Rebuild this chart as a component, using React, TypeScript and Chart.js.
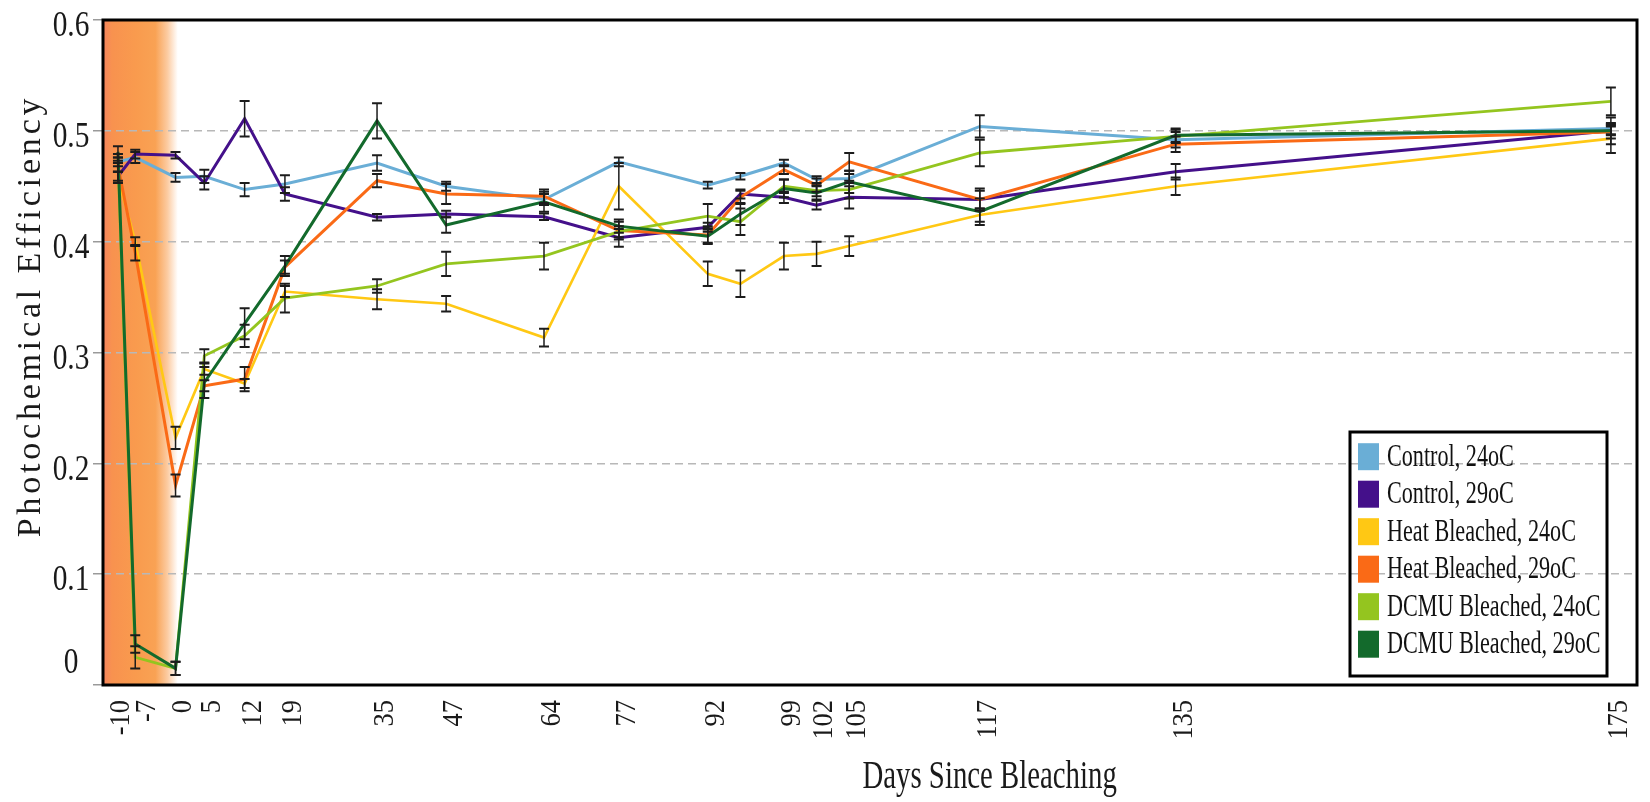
import React, { useEffect, useRef } from 'react';
import { Chart, registerables, LinearScale } from 'chart.js';

Chart.register(...registerables);

// Measurement days (one per sample) and the day labels shown on the axis
const days = [-10, -7, 0, 5, 12, 19, 35, 47, 64, 77, 92, 95, 99, 102, 105, 117, 135, 175];
const tickDays = [-10, -7, 0, 5, 12, 19, 35, 47, 64, 77, 92, 99, 102, 105, 117, 135, 175];

// Photochemical efficiency (Fv/Fm) means and their error half-widths
const control24 = [0.472, 0.476, 0.458, 0.459, 0.447, 0.452, 0.471, 0.45, 0.438, 0.472, 0.451, 0.459, 0.471, 0.456, 0.457, 0.504, 0.492, 0.502];
const control24Err = [0.004, 0.005, 0.004, 0.006, 0.006, 0.008, 0.007, 0.004, 0.005, 0.004, 0.003, 0.003, 0.003, 0.003, 0.004, 0.01, 0.007, 0.005];

const control29 = [0.459, 0.479, 0.478, 0.453, 0.511, 0.443, 0.422, 0.425, 0.4225, 0.4035, 0.413, 0.443, 0.44, 0.433, 0.44, 0.438, 0.463, 0.5];
const control29Err = [0.004, 0.004, 0.003, 0.006, 0.016, 0.006, 0.003, 0.003, 0.003, 0.008, 0.004, 0.004, 0.005, 0.004, 0.01, 0.008, 0.007, 0.004];

const heat24 = [0.458, 0.4, 0.223, 0.285, 0.272, 0.355, 0.348, 0.344, 0.3135, 0.45, 0.371, 0.362, 0.387, 0.389, 0.396, 0.424, 0.45, 0.493];
const heat24Err = [0.005, 0.004, 0.01, 0.005, 0.004, 0.005, 0.009, 0.007, 0.008, 0.021, 0.011, 0.012, 0.012, 0.011, 0.009, 0.006, 0.008, 0.013];

const heat29 = [0.468, 0.39, 0.18, 0.27, 0.276, 0.377, 0.455, 0.443, 0.441, 0.41, 0.406, 0.44, 0.465, 0.451, 0.472, 0.438, 0.488, 0.499];
const heat29Err = [0.005, 0.007, 0.01, 0.005, 0.011, 0.006, 0.006, 0.009, 0.006, 0.008, 0.008, 0.006, 0.004, 0.006, 0.008, 0.01, 0.007, 0.006];

const dcmu24 = [0.475, 0.025, 0.015, 0.297, 0.315, 0.349, 0.36, 0.38, 0.387, 0.409, 0.423, 0.418, 0.45, 0.446, 0.447, 0.48, 0.495, 0.5265];
const dcmu24Err = [0.004, 0.01, 0.006, 0.006, 0.01, 0.013, 0.006, 0.011, 0.012, 0.005, 0.011, 0.012, 0.006, 0.005, 0.008, 0.012, 0.006, 0.0125];

const dcmu29 = [0.481, 0.037, 0.015, 0.273, 0.326, 0.378, 0.509, 0.415, 0.436, 0.414, 0.405, 0.425, 0.448, 0.444, 0.454, 0.427, 0.496, 0.5];
const dcmu29Err = [0.005, 0.008, 0.006, 0.014, 0.014, 0.009, 0.016, 0.007, 0.009, 0.006, 0.006, 0.01, 0.008, 0.006, 0.01, 0.012, 0.006, 0.012];

const SERIF = '"Liberation Serif", "DejaVu Serif", serif';

// The time axis is drawn at a wider spacing per day after the early recovery phase
const BREAK_DAY = 91.5;
const LATE_STRETCH = 1.89;
const stretch = (d: number) => (d <= BREAK_DAY ? d : BREAK_DAY + (d - BREAK_DAY) * LATE_STRETCH);
const unstretch = (s: number) => (s <= BREAK_DAY ? s : BREAK_DAY + (s - BREAK_DAY) / LATE_STRETCH);

class SplitDayScale extends LinearScale {
  static id = 'splitDay';
  static defaults = LinearScale.defaults;

  getPixelForValue(value: number) {
    if (value === null || value === undefined || isNaN(value)) return NaN;
    const a = stretch(this.min);
    const b = stretch(this.max);
    return this.getPixelForDecimal((stretch(value) - a) / (b - a));
  }

  getValueForPixel(pixel: number) {
    const a = stretch(this.min);
    const b = stretch(this.max);
    return unstretch(a + this.getDecimalForPixel(pixel) * (b - a));
  }
}
Chart.register(SplitDayScale);

const toPoints = (values: number[]) => values.map((v, i) => ({ x: days[i], y: v }));

// Shaded bleaching period before day 0
const bleachBandPlugin = {
  id: 'bleachBand',
  beforeDraw(chart: any) {
    const { ctx, chartArea: a, scales } = chart;
    const x0 = a.left;
    const x1 = scales.x.getPixelForValue(0.4);
    const g = ctx.createLinearGradient(x0, 0, x1, 0);
    g.addColorStop(0, '#f6845e');
    g.addColorStop(0.12, '#f8924f');
    g.addColorStop(0.45, '#f99b4e');
    g.addColorStop(0.7, '#f9a254');
    g.addColorStop(0.86, '#fccba1');
    g.addColorStop(1, '#ffffff');
    ctx.save();
    ctx.fillStyle = g;
    ctx.fillRect(x0, a.top, x1 - x0, a.bottom - a.top);
    ctx.restore();
  },
};

const errorBarPlugin = {
  id: 'errorBars',
  afterDatasetsDraw(chart: any) {
    const { ctx, scales } = chart;
    const xs = scales.x;
    const ys = scales.y;
    ctx.save();
    ctx.strokeStyle = '#1c1c1c';
    chart.data.datasets.forEach((ds: any) => {
      ds.data.forEach((pt: any, i: number) => {
        const e = ds.errors[i];
        if (!e) return;
        const px = xs.getPixelForValue(pt.x);
        const top = ys.getPixelForValue(pt.y + e);
        const bot = ys.getPixelForValue(pt.y - e);
        ctx.lineWidth = 1.5;
        ctx.beginPath();
        ctx.moveTo(px, top);
        ctx.lineTo(px, bot);
        ctx.stroke();
        ctx.lineWidth = 2;
        ctx.beginPath();
        ctx.moveTo(px - 5, top);
        ctx.lineTo(px + 5, top);
        ctx.moveTo(px - 5, bot);
        ctx.lineTo(px + 5, bot);
        ctx.stroke();
      });
    });
    ctx.restore();
  },
};

// Frame, axis labels and titles, and the boxed legend
const decorPlugin = {
  id: 'decor',
  afterDraw(chart: any) {
    const { ctx, chartArea: a, scales } = chart;
    const xs = scales.x;
    const ys = scales.y;
    ctx.save();

    ctx.lineWidth = 3;
    ctx.strokeStyle = '#000';
    ctx.strokeRect(a.left, a.top, a.right - a.left, a.bottom - a.top);

    // y tick labels, narrow serif figures centred in the axis gutter
    ctx.fillStyle = '#1a1a1a';
    ctx.textAlign = 'center';
    ctx.textBaseline = 'middle';
    ys.ticks.forEach((t: any) => {
      const v = Number(t.value);
      const isZero = Math.abs(v) < 1e-9;
      const py = ys.getPixelForValue(v) + (isZero ? -21 : 7);
      ctx.save();
      ctx.translate(a.left - 32, py);
      ctx.scale(0.84, 1);
      ctx.font = `35px ${SERIF}`;
      ctx.fillText(isZero ? '0' : v.toFixed(1), 0, 0);
      ctx.restore();
    });

    // x tick labels, rotated; neighbours that would collide are spread apart
    const GAP = 26;
    const pos = tickDays.map((d) => xs.getPixelForValue(d) + 8);
    for (let i = 1; i < pos.length; i++) {
      if (pos[i] - pos[i - 1] < GAP) {
        const mid = (pos[i] + pos[i - 1]) / 2;
        pos[i - 1] = mid - GAP / 2;
        pos[i] = mid + GAP / 2;
      }
    }
    tickDays.forEach((d, i) => {
      ctx.save();
      ctx.translate(pos[i], a.bottom + 15);
      ctx.rotate(-Math.PI / 2);
      ctx.scale(0.88, 1);
      ctx.font = `30px ${SERIF}`;
      ctx.textAlign = 'right';
      ctx.textBaseline = 'middle';
      ctx.fillText(String(d), 0, 0);
      ctx.restore();
    });

    // y title
    ctx.save();
    ctx.translate(31, 316);
    ctx.rotate(-Math.PI / 2);
    ctx.font = `34px ${SERIF}`;
    (ctx as any).letterSpacing = '3.8px';
    ctx.textAlign = 'center';
    ctx.textBaseline = 'middle';
    ctx.fillText('Photochemical Efficiency', 0, 0);
    ctx.restore();

    // x title
    ctx.save();
    ctx.translate(a.left + (a.right - a.left) * 0.578, 788);
    ctx.scale(0.72, 1);
    ctx.font = `40px ${SERIF}`;
    ctx.textAlign = 'center';
    ctx.textBaseline = 'alphabetic';
    ctx.fillText('Days Since Bleaching', 0, 0);
    ctx.restore();

    // legend
    const left = a.right - 287;
    const right = a.right - 30;
    const top = a.bottom - 253;
    const bottom = a.bottom - 9;
    ctx.lineWidth = 3;
    ctx.strokeStyle = '#000';
    ctx.strokeRect(left, top, right - left, bottom - top);
    chart.data.datasets.forEach((ds: any, i: number) => {
      const cy = top + 24.7 + i * 37.5;
      ctx.fillStyle = ds.borderColor;
      ctx.fillRect(left + 8, cy - 13.5, 21, 27);
      ctx.save();
      ctx.translate(left + 37, cy + 1);
      ctx.scale(0.715, 1);
      ctx.font = `31px ${SERIF}`;
      ctx.fillStyle = '#111';
      ctx.textAlign = 'left';
      ctx.textBaseline = 'middle';
      ctx.fillText(ds.label, 0, 0);
      ctx.restore();
    });

    ctx.restore();
  },
};

export default function App() {
  const ref = useRef<HTMLCanvasElement>(null);

  useEffect(() => {
    document.body.style.margin = '0';
    const series = [
      { label: 'Control, 24oC', values: control24, errors: control24Err, color: '#6aaed6', width: 3, order: 6 },
      { label: 'Control, 29oC', values: control29, errors: control29Err, color: '#44108a', width: 3, order: 5 },
      { label: 'Heat Bleached, 24oC', values: heat24, errors: heat24Err, color: '#ffc814', width: 2.6, order: 4 },
      { label: 'Heat Bleached, 29oC', values: heat29, errors: heat29Err, color: '#fa6a16', width: 3, order: 3 },
      { label: 'DCMU Bleached, 24oC', values: dcmu24, errors: dcmu24Err, color: '#94c51f', width: 2.8, order: 2 },
      { label: 'DCMU Bleached, 29oC', values: dcmu29, errors: dcmu29Err, color: '#136a2c', width: 3, order: 1 },
    ];

    const chart = new Chart(ref.current as HTMLCanvasElement, {
      type: 'line',
      data: {
        datasets: series.map((s) => ({
          label: s.label,
          data: toPoints(s.values),
          errors: s.errors,
          borderColor: s.color,
          backgroundColor: s.color,
          borderWidth: s.width,
          order: s.order,
          pointRadius: 0,
          tension: 0,
          fill: false,
        })) as any,
      },
      options: {
        animation: false,
        responsive: false,
        devicePixelRatio: 1,
        layout: { padding: { left: 45, top: 20, right: 13, bottom: 0 } },
        plugins: { legend: { display: false }, tooltip: { enabled: false } },
        scales: {
          x: {
            type: 'splitDay' as any,
            min: -12.6,
            max: 177.4,
            afterBuildTicks: (s: any) => {
              s.ticks = tickDays.map((v) => ({ value: v }));
            },
            afterFit: (s: any) => {
              s.height = 117;
              s.paddingLeft = 0;
              s.paddingRight = 0;
            },
            grid: { display: false, drawTicks: false },
            border: { display: false },
            ticks: { display: false, autoSkip: false },
          },
          y: {
            min: 0,
            max: 0.6,
            afterFit: (s: any) => {
              s.width = 58;
              s.paddingTop = 0;
              s.paddingBottom = 0;
            },
            border: { display: false, dash: [8, 5] },
            grid: {
              color: '#b8b8b8',
              lineWidth: 1.5,
              tickLength: 10,
              tickColor: '#9a9a9a',
              tickWidth: 1.5,
              tickBorderDash: [],
            } as any,
            ticks: { display: false, stepSize: 0.1 },
          },
        },
      },
      plugins: [bleachBandPlugin, errorBarPlugin, decorPlugin],
    });

    return () => chart.destroy();
  }, []);

  return (
    <div style={{ width: 1650, height: 802, overflow: 'hidden' }}>
      <canvas ref={ref} width={1650} height={802} style={{ display: 'block' }} />
    </div>
  );
}
